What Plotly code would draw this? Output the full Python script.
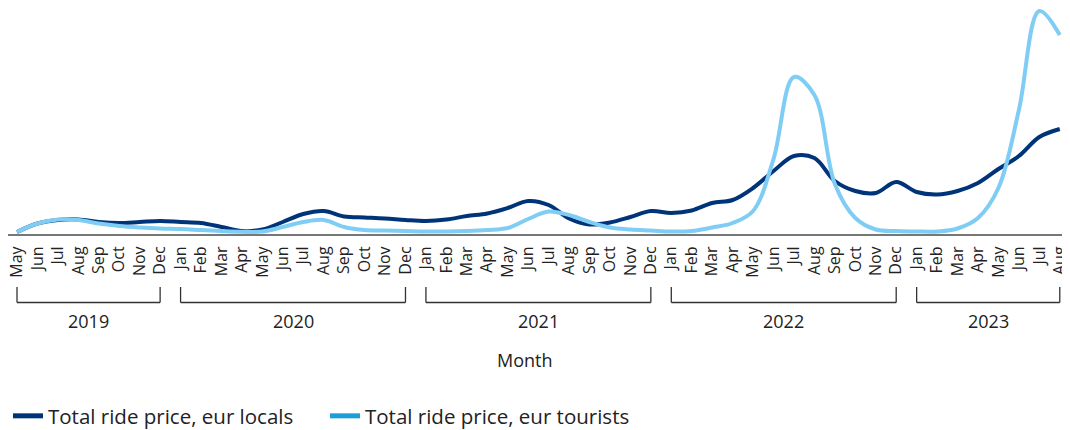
import plotly.graph_objects as go

months = ["May", "Jun", "Jul", "Aug", "Sep", "Oct", "Nov", "Dec",
          "Jan", "Feb", "Mar", "Apr", "May", "Jun", "Jul", "Aug", "Sep", "Oct", "Nov", "Dec",
          "Jan", "Feb", "Mar", "Apr", "May", "Jun", "Jul", "Aug", "Sep", "Oct", "Nov", "Dec",
          "Jan", "Feb", "Mar", "Apr", "May", "Jun", "Jul", "Aug", "Sep", "Oct", "Nov", "Dec",
          "Jan", "Feb", "Mar", "Apr", "May", "Jun", "Jul", "Aug"]

years = ["2019", "2020", "2021", "2022", "2023"]
year_first = [0, 8, 20, 32, 44]
year_last = [7, 19, 31, 43, 51]

locals_price = [0, 8.5, 12, 12.5, 10, 9, 10, 11,
                10, 9, 5, 1, 2.5, 10, 18, 21, 15.5, 14.5, 13.5, 12,
                11, 12.5, 16, 18.5, 24, 31, 27, 13.5, 7.5, 9.5, 15, 21,
                19, 21.5, 29, 32, 44, 61, 76, 74, 51, 41, 39, 50,
                40, 37.5, 41, 49, 63, 76, 95, 103]

tourists_price = [0, 8.5, 12.5, 12, 8.5, 6, 4.5, 3.5,
                  3, 2, 1, 0.3, 0.5, 5, 10, 12, 5, 2, 1.5, 1,
                  0.5, 0.5, 1, 2, 4, 13, 20.5, 17, 10, 4.5, 2.5, 1.5,
                  0.5, 1, 4.5, 9, 21, 73, 155, 137, 48, 14, 2.5, 1,
                  0.5, 0.5, 3.5, 14, 44, 122, 221, 197]

x_idx = list(range(len(months)))

DARK = "#003478"
LIGHT = "#7fcdf4"
LIGHT_LEG = "#1a9fdb"

# The page body adds an 8px offset; the figure is sized so it fills the window.
OFF = 8
W = 1070 - OFF
H = 430 - OFF
BASE = 234 - OFF          # axis line, in figure pixels
VAL_TOP = 232 - OFF       # value shown at the top edge of the plot area

fig = go.Figure()
fig.add_trace(go.Scatter(x=x_idx, y=locals_price, mode="lines",
                         line=dict(color=DARK, width=4, shape="spline", smoothing=1.0),
                         showlegend=False, hoverinfo="skip"))
fig.add_trace(go.Scatter(x=x_idx, y=tourists_price, mode="lines",
                         line=dict(color=LIGHT, width=4, shape="spline", smoothing=1.0),
                         showlegend=False, hoverinfo="skip"))
# legend entries
fig.add_trace(go.Scatter(x=[None], y=[None], mode="lines", name="Total ride price, eur locals",
                         line=dict(color=DARK, width=5)))
fig.add_trace(go.Scatter(x=[None], y=[None], mode="lines", name="Total ride price, eur tourists",
                         line=dict(color=LIGHT_LEG, width=5)))


def py(p_ref):
    return (BASE - (p_ref - OFF)) / BASE


shapes = []
annotations = []
for yr, a, b in zip(years, year_first, year_last):
    for x0, x1, y0, y1 in [(a, a, 287, 302.5), (b, b, 287, 302.5), (a, b, 302.5, 302.5)]:
        shapes.append(dict(type="line", xref="x", yref="paper", x0=x0, x1=x1,
                           y0=py(y0), y1=py(y1), line=dict(color="#333333", width=1.3)))
    annotations.append(dict(x=(a + b) / 2, y=py(321), xref="x", yref="paper", text=yr,
                            showarrow=False, xanchor="center", yanchor="middle",
                            font=dict(size=18, color="#222222")))

annotations.append(dict(x=(525 - OFF) / W, y=py(360), xref="paper", yref="paper", text="Month",
                        showarrow=False, xanchor="center", yanchor="middle",
                        font=dict(size=18, color="#222222")))

fig.update_layout(
    width=W, height=H,
    margin=dict(l=0, r=0, t=0, b=H - BASE, autoexpand=False),
    paper_bgcolor="white", plot_bgcolor="white",
    font=dict(family="Open Sans", color="#222222"),
    shapes=shapes, annotations=annotations,
    legend=dict(orientation="h", xref="container", yref="container",
                x=-22 / W, xanchor="left", y=(430 - 416) / H, yanchor="middle",
                font=dict(size=20.5, color="#222222"), itemwidth=30,
                entrywidth=272, entrywidthmode="pixels"),
    xaxis=dict(range=[-0.44, 51.5], tickmode="array", tickvals=x_idx, ticktext=months,
               tickangle=-90, tickfont=dict(size=16, color="#222222"), ticks="",
               ticklabelstandoff=4, ticklabeloverflow="allow", automargin=False,
               showline=True, linecolor="#777777", linewidth=2, showgrid=False, zeroline=False,
               fixedrange=True),
    yaxis=dict(range=[-2, VAL_TOP], visible=False, showgrid=False, zeroline=False,
               fixedrange=True, automargin=False),
)

fig.write_html("out.html")
